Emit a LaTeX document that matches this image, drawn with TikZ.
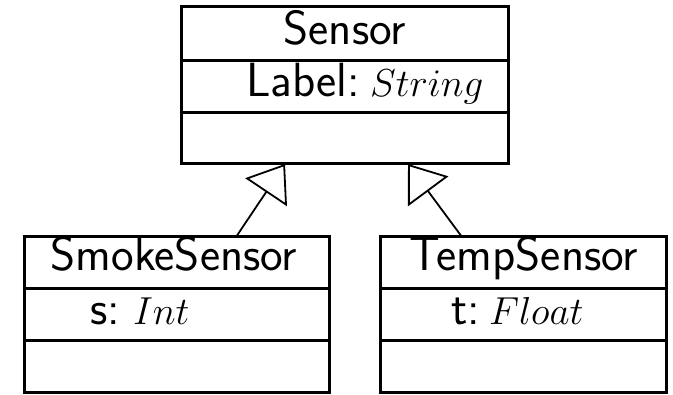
\RequirePackage{fix-cm}
\documentclass[tikz,border=0pt]{standalone}
\usetikzlibrary{arrows.meta}
% math-italic type names, set a little smaller than the sans labels
\newcommand{\typename}[1]{{\fontsize{39}{45}\selectfont$#1$}}
\begin{document}
\begin{tikzpicture}[x=1pt,y=-1pt,
  part/.style={draw,line width=3pt,inner sep=0pt,outer sep=0pt,anchor=north},
  txt/.style={inner sep=0pt,font=\fontsize{48}{54}\selectfont\sffamily},
  inherit/.style={line width=1.8pt,-{Triangle[open,length=34pt,width=50pt]}}]
\useasboundingbox (0,0) rectangle (673,395);

% Sensor class
\node[part,minimum width=327pt,minimum height=54pt] (sensor) at (344.5,7) {};
\node[part,minimum width=327pt,minimum height=52pt] (sensor-attr) at (sensor.south) {};
\node[part,minimum width=327pt,minimum height=51pt] (sensor-ops) at (sensor-attr.south) {};
\node[txt,anchor=base] (sensor-name) at (345,45) {Sensor};
\node[txt,anchor=base west] (sensor-label) at (246,97) {Label:\hspace{10pt}\typename{String}};

% SmokeSensor class
\node[part,minimum width=305pt,minimum height=52pt] (smoke) at (176.5,237) {};
\node[part,minimum width=305pt,minimum height=52pt] (smoke-attr) at (smoke.south) {};
\node[part,minimum width=305pt,minimum height=52pt] (smoke-ops) at (smoke-attr.south) {};
\node[txt,anchor=base] (smoke-name) at (174,271) {SmokeSensor};
\node[txt,anchor=base west] (smoke-s) at (90,325) {s:\hspace{13pt}\typename{Int}};

% TempSensor class
\node[part,minimum width=286pt,minimum height=52pt] (temp) at (523,237) {};
\node[part,minimum width=286pt,minimum height=52pt] (temp-attr) at (temp.south) {};
\node[part,minimum width=286pt,minimum height=52pt] (temp-ops) at (temp-attr.south) {};
\node[txt,anchor=base] (temp-name) at (524,271) {TempSensor};
\node[txt,anchor=base west] (temp-t) at (451,325) {t:\hspace{9pt}\typename{Float}};

% generalisation arrows
\coordinate (smoke-up) at (236,237);
\coordinate (temp-up) at (462,237);
\coordinate (sensor-in-left) at (285,164);
\coordinate (sensor-in-right) at (408,164);
\draw[inherit] (smoke-up) -- (sensor-in-left);
\draw[inherit] (temp-up) -- (sensor-in-right);
\end{tikzpicture}
\end{document}
